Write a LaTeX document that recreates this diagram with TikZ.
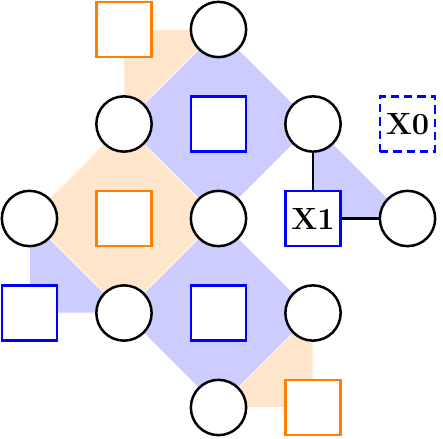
\documentclass[tikz,border=0pt]{standalone}
\begin{document}
\begin{tikzpicture}[
  circ/.style={draw=black, fill=white, circle, minimum size=1.17cm, inner sep=0pt, line width=1.5pt},
  bsq/.style={draw=blue, fill=white, rectangle, minimum size=1.165cm, inner sep=0pt, line width=1.5pt, font=\fontsize{18.5}{20}\selectfont\bfseries},
  osq/.style={draw=orange, fill=white, rectangle, minimum size=1.165cm, inner sep=0pt, line width=1.5pt},
  bfill/.style={fill=blue!20, draw=white, line width=0.4pt},
  ofill/.style={fill=orange!20, draw=white, line width=0.4pt},
  link/.style={draw=black, line width=1.5pt}
]
\useasboundingbox (-0.624,0.624) rectangle (8.751,-8.646);
% shaded regions
\filldraw[bfill] (4,0) -- (6,-2) -- (4,-4) -- (2,-2) -- cycle;
\filldraw[bfill] (4,-4) -- (6,-6) -- (4,-8) -- (2,-6) -- cycle;
\filldraw[bfill] (6,-2) -- (8,-4) -- (6,-4) -- cycle;
\filldraw[bfill] (0,-4) -- (2,-6) -- (0,-6) -- cycle;
\filldraw[ofill] (2,-2) -- (4,-4) -- (2,-6) -- (0,-4) -- cycle;
\filldraw[ofill] (2,0) -- (4,0) -- (2,-2) -- cycle;
\filldraw[ofill] (6,-6) -- (6,-8) -- (4,-8) -- cycle;
% nodes
\node[osq] (s10) at (2,0) {};
\node[circ] (c20) at (4,0) {};
\node[circ] (c11) at (2,-2) {};
\node[bsq] (s21) at (4,-2) {};
\node[circ] (c31) at (6,-2) {};
\node[bsq, dash pattern=on 5pt off 3pt] (x0) at (8,-2) {X0};
\node[circ] (c02) at (0,-4) {};
\node[osq] (s12) at (2,-4) {};
\node[circ] (c22) at (4,-4) {};
\node[bsq] (x1) at (6,-4) {X1};
\node[circ] (c42) at (8,-4) {};
\node[bsq] (s03) at (0,-6) {};
\node[circ] (c13) at (2,-6) {};
\node[bsq] (s23) at (4,-6) {};
\node[circ] (c33) at (6,-6) {};
\node[circ] (c24) at (4,-8) {};
\node[osq] (s34) at (6,-8) {};
% links
\draw[link] (c31) -- (x1);
\draw[link] (x1) -- (c42);
\end{tikzpicture}
\end{document}
